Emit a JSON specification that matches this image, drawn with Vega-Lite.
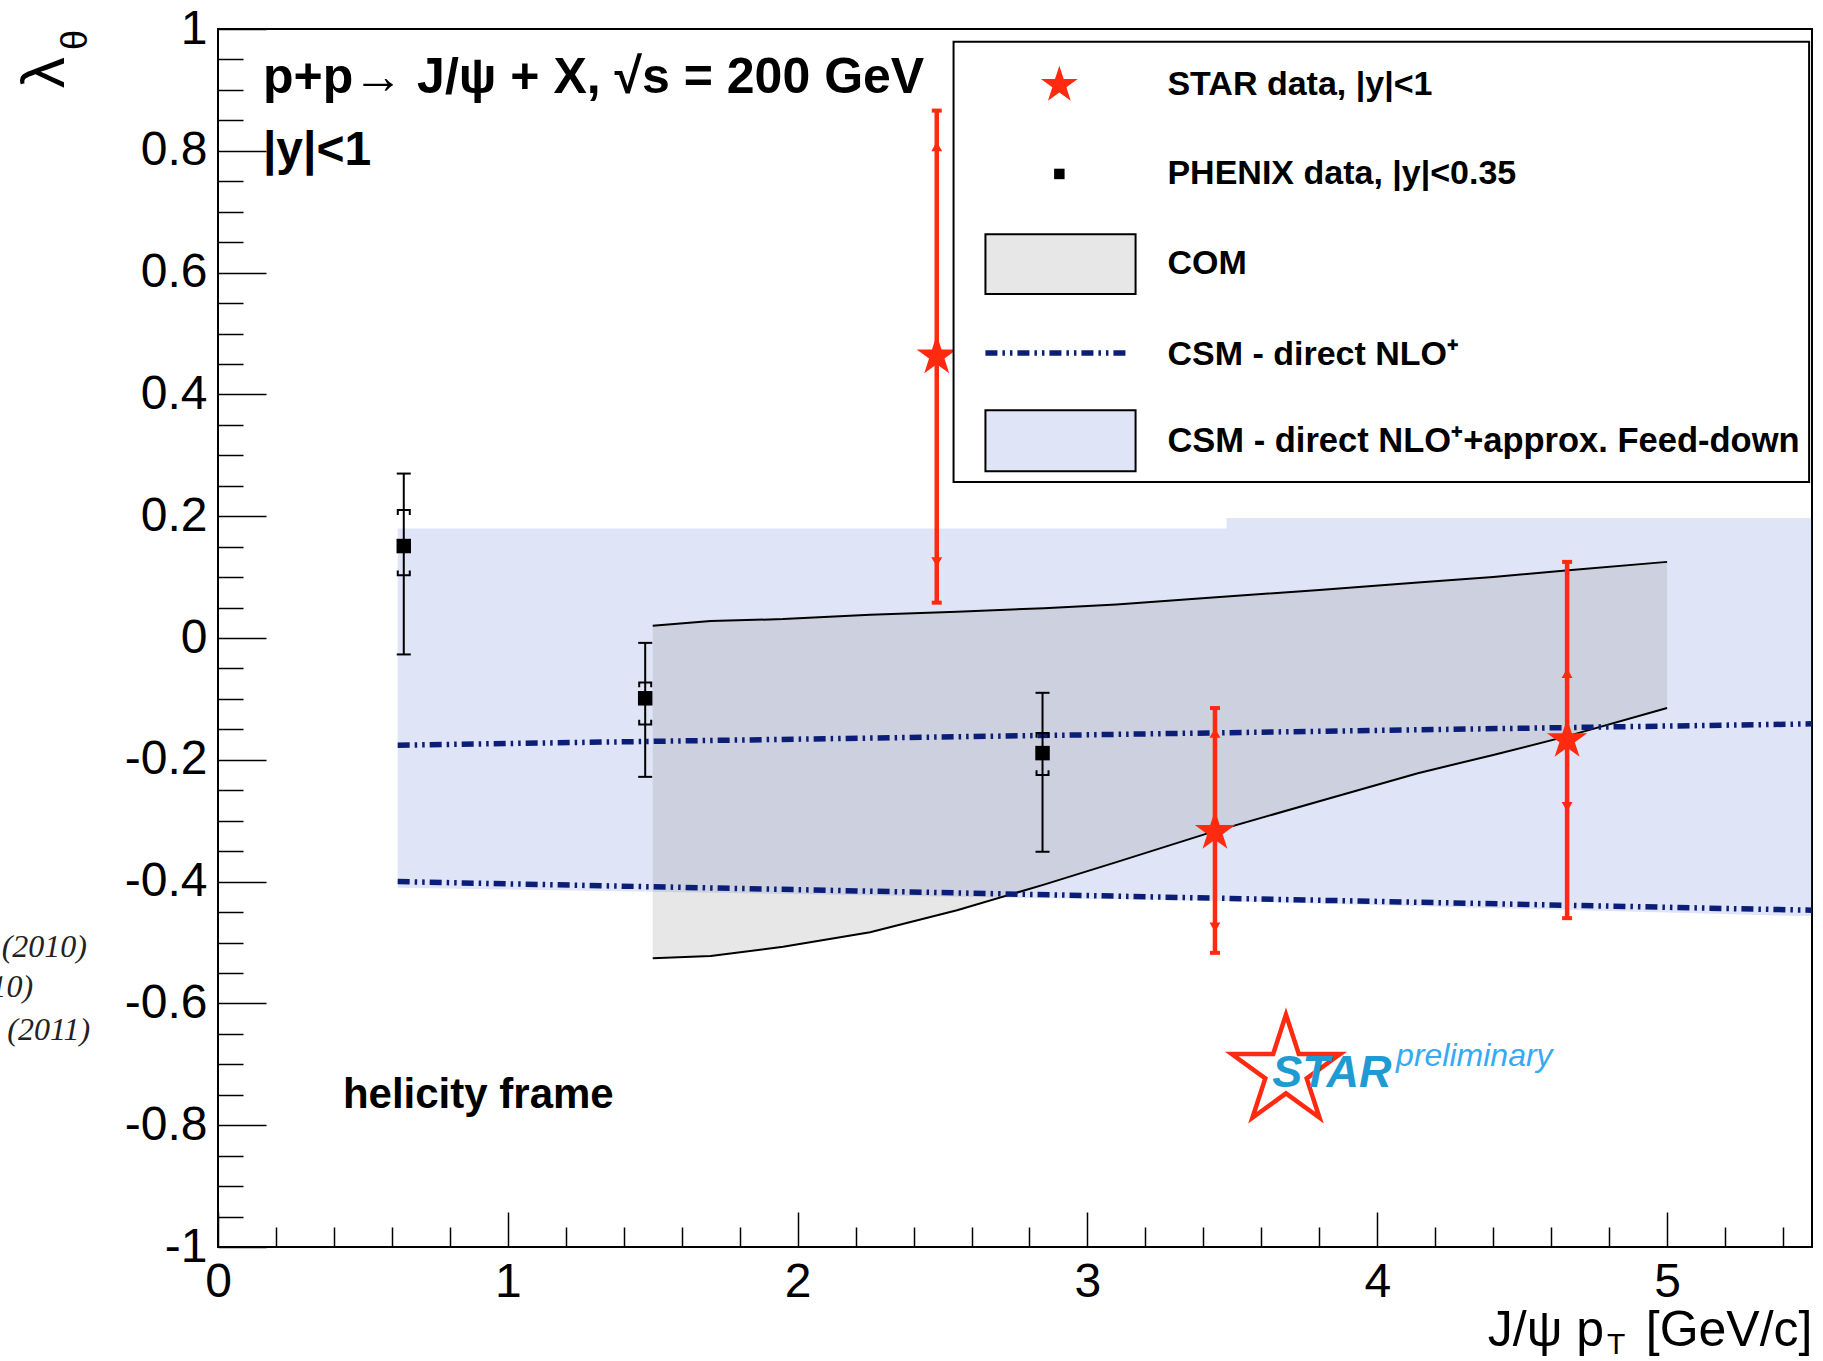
{
  "$schema": "https://vega.github.io/schema/vega-lite/v6.json",
  "width": 1594,
  "height": 1218,
  "autosize": {"type": "none"},
  "padding": {"left": 218, "top": 29, "right": 11, "bottom": 114},
  "background": "white",
  "config": {
    "view": {"stroke": "black", "strokeWidth": 2},
    "font": "Liberation Sans",
    "text": {"font": "Liberation Sans", "color": "black"}
  },
  "datasets": {
    "star": [
      {"pt": 2.48, "lam": 0.463, "stat_lo": 0.058, "stat_hi": 0.866, "sys_lo": 0.125, "sys_hi": 0.807},
      {"pt": 3.44, "lam": -0.318, "stat_lo": -0.517, "stat_hi": -0.115, "sys_lo": -0.475, "sys_hi": -0.156},
      {"pt": 4.655, "lam": -0.167, "stat_lo": -0.46, "stat_hi": 0.125, "sys_lo": -0.277, "sys_hi": -0.058}
    ],
    "phenix": [
      {"pt": 0.641, "lam": 0.151, "stat_lo": -0.027, "stat_hi": 0.27, "sys_lo": 0.103, "sys_hi": 0.21},
      {"pt": 1.474, "lam": -0.099, "stat_lo": -0.228, "stat_hi": -0.008, "sys_lo": -0.142, "sys_hi": -0.073},
      {"pt": 2.845, "lam": -0.189, "stat_lo": -0.351, "stat_hi": -0.09, "sys_lo": -0.225, "sys_hi": -0.156}
    ],
    "com": [
      {"pt": 1.5, "lo": -0.526, "hi": 0.02},
      {"pt": 1.7, "lo": -0.522, "hi": 0.028},
      {"pt": 1.95, "lo": -0.507, "hi": 0.031},
      {"pt": 2.25, "lo": -0.483, "hi": 0.038},
      {"pt": 2.55, "lo": -0.447, "hi": 0.043},
      {"pt": 2.85, "lo": -0.405, "hi": 0.049},
      {"pt": 3.1, "lo": -0.368, "hi": 0.055},
      {"pt": 3.42, "lo": -0.32, "hi": 0.066},
      {"pt": 3.8, "lo": -0.268, "hi": 0.079},
      {"pt": 4.14, "lo": -0.222, "hi": 0.091},
      {"pt": 4.4, "lo": -0.192, "hi": 0.1},
      {"pt": 4.65, "lo": -0.162, "hi": 0.111},
      {"pt": 5.0, "lo": -0.115, "hi": 0.125}
    ],
    "csm_band": [
      {"pt": 0.62, "lo": -0.41, "hi": 0.18},
      {"pt": 3.48, "lo": -0.432, "hi": 0.18},
      {"pt": 3.48, "lo": -0.432, "hi": 0.197},
      {"pt": 5.5, "lo": -0.457, "hi": 0.197}
    ],
    "csm_lines": [
      {"pt": 0.62, "lo": -0.4, "hi": -0.176},
      {"pt": 5.5, "lo": -0.447, "hi": -0.141}
    ]
  },
  "data": {"values": [{}]},
  "layer": [
    {
      "data": {"name": "csm_band"},
      "mark": {"type": "area", "color": "#3a55c8", "opacity": 0.16},
      "encoding": {
        "x": {
          "field": "pt", "type": "quantitative",
          "scale": {"domain": [0, 5.5], "nice": false, "zero": false},
          "axis": {
            "values": [0,0.2,0.4,0.6,0.8,1,1.2,1.4,1.6,1.8,2,2.2,2.4,2.6,2.8,3,3.2,3.4,3.6,3.8,4,4.2,4.4,4.6,4.8,5,5.2,5.4],
            "tickCount": 200,
            "domain": false, "grid": false, "ticks": true,
            "tickColor": "black", "tickWidth": 1.5,
            "tickSize": {"condition": {"test": "abs(datum.value - round(datum.value)) < 0.001", "value": -35}, "value": -20},
            "labelExpr": "abs(datum.value - round(datum.value)) < 0.001 ? format(datum.value, 'd') : ''",
            "labelFontSize": 48, "labelColor": "black", "labelFont": "Liberation Sans",
            "labelPadding": 46, "labelOverlap": false, "labelFlush": false, "labelBound": false,
            "title": "J/ψ p\u00a0\u00a0\u00a0[GeV/c]",
            "titleFontSize": 50, "titleFontWeight": "normal", "titleColor": "black", "titleFont": "Liberation Sans",
            "titleAnchor": "end", "titleAlign": "right", "titleBaseline": "alphabetic", "titleY": 98
          }
        },
        "y": {
          "field": "lo", "type": "quantitative",
          "scale": {"domain": [-1, 1], "nice": false, "zero": false},
          "axis": {
            "values": [-1,-0.95,-0.9,-0.85,-0.8,-0.75,-0.7,-0.65,-0.6,-0.55,-0.5,-0.45,-0.4,-0.35,-0.3,-0.25,-0.2,-0.15,-0.1,-0.05,0,0.05,0.1,0.15,0.2,0.25,0.3,0.35,0.4,0.45,0.5,0.55,0.6,0.65,0.7,0.75,0.8,0.85,0.9,0.95,1],
            "tickCount": 200,
            "domain": false, "grid": false, "ticks": true,
            "tickColor": "black", "tickWidth": 1.5,
            "tickSize": {"condition": {"test": "abs(datum.value*5 - round(datum.value*5)) < 0.001", "value": -48}, "value": -25},
            "labelExpr": "abs(datum.value*5 - round(datum.value*5)) < 0.001 ? replace(format(datum.value, '.1~f'), '−', '-') : ''",
            "labelFontSize": 48, "labelColor": "black", "labelFont": "Liberation Sans",
            "labelPadding": 59, "labelOverlap": false, "labelFlush": false, "labelBound": false,
            "title": null
          }
        },
        "y2": {"field": "hi"}
      }
    },
    {
      "data": {"name": "com"},
      "mark": {"type": "area", "color": "#707070", "opacity": 0.17},
      "encoding": {
        "x": {"field": "pt", "type": "quantitative"},
        "y": {"field": "lo", "type": "quantitative"},
        "y2": {"field": "hi"}
      }
    },
    {
      "data": {"name": "com"},
      "mark": {"type": "line", "color": "black", "strokeWidth": 2},
      "encoding": {
        "x": {"field": "pt", "type": "quantitative"},
        "y": {"field": "hi", "type": "quantitative"}
      }
    },
    {
      "data": {"name": "com"},
      "mark": {"type": "line", "color": "black", "strokeWidth": 2},
      "encoding": {
        "x": {"field": "pt", "type": "quantitative"},
        "y": {"field": "lo", "type": "quantitative"}
      }
    },
    {
      "data": {"name": "csm_lines"},
      "mark": {"type": "line", "color": "#0a1e78", "strokeWidth": 5.5, "strokeDash": [12, 5, 2.5, 5, 2.5, 5]},
      "encoding": {
        "x": {"field": "pt", "type": "quantitative"},
        "y": {"field": "hi", "type": "quantitative"}
      }
    },
    {
      "data": {"name": "csm_lines"},
      "mark": {"type": "line", "color": "#0a1e78", "strokeWidth": 5.5, "strokeDash": [12, 5, 2.5, 5, 2.5, 5]},
      "encoding": {
        "x": {"field": "pt", "type": "quantitative"},
        "y": {"field": "lo", "type": "quantitative"}
      }
    },
    {
      "data": {"name": "phenix"},
      "mark": {"type": "rule", "color": "black", "strokeWidth": 2},
      "encoding": {
        "x": {"field": "pt", "type": "quantitative"},
        "y": {"field": "stat_lo", "type": "quantitative"},
        "y2": {"field": "stat_hi"}
      }
    },
    {
      "data": {"name": "phenix"},
      "mark": {"type": "point", "shape": "M-1,0H1", "filled": false, "stroke": "black", "strokeWidth": 2, "size": 196, "opacity": 1},
      "encoding": {
        "x": {"field": "pt", "type": "quantitative"},
        "y": {"field": "stat_hi", "type": "quantitative"}
      }
    },
    {
      "data": {"name": "phenix"},
      "mark": {"type": "point", "shape": "M-1,0H1", "filled": false, "stroke": "black", "strokeWidth": 2, "size": 196, "opacity": 1},
      "encoding": {
        "x": {"field": "pt", "type": "quantitative"},
        "y": {"field": "stat_lo", "type": "quantitative"}
      }
    },
    {
      "data": {"name": "phenix"},
      "mark": {"type": "point", "shape": "M-1,0.8V0H1V0.8", "filled": false, "stroke": "black", "strokeWidth": 2, "size": 144, "opacity": 1},
      "encoding": {
        "x": {"field": "pt", "type": "quantitative"},
        "y": {"field": "sys_hi", "type": "quantitative"}
      }
    },
    {
      "data": {"name": "phenix"},
      "mark": {"type": "point", "shape": "M-1,-0.8V0H1V-0.8", "filled": false, "stroke": "black", "strokeWidth": 2, "size": 144, "opacity": 1},
      "encoding": {
        "x": {"field": "pt", "type": "quantitative"},
        "y": {"field": "sys_lo", "type": "quantitative"}
      }
    },
    {
      "data": {"name": "phenix"},
      "mark": {"type": "point", "shape": "square", "filled": true, "color": "black", "size": 210, "opacity": 1},
      "encoding": {
        "x": {"field": "pt", "type": "quantitative"},
        "y": {"field": "lam", "type": "quantitative"}
      }
    },
    {
      "data": {"name": "star"},
      "mark": {"type": "rule", "color": "#ff2a10", "strokeWidth": 4.5},
      "encoding": {
        "x": {"field": "pt", "type": "quantitative"},
        "y": {"field": "stat_lo", "type": "quantitative"},
        "y2": {"field": "stat_hi"}
      }
    },
    {
      "data": {"name": "star"},
      "mark": {"type": "point", "shape": "M-1,0H1", "filled": false, "stroke": "#ff2a10", "strokeWidth": 4, "size": 100, "opacity": 1},
      "encoding": {
        "x": {"field": "pt", "type": "quantitative"},
        "y": {"field": "stat_hi", "type": "quantitative"}
      }
    },
    {
      "data": {"name": "star"},
      "mark": {"type": "point", "shape": "M-1,0H1", "filled": false, "stroke": "#ff2a10", "strokeWidth": 4, "size": 100, "opacity": 1},
      "encoding": {
        "x": {"field": "pt", "type": "quantitative"},
        "y": {"field": "stat_lo", "type": "quantitative"}
      }
    },
    {
      "data": {"name": "star"},
      "mark": {"type": "point", "shape": "triangle-up", "filled": true, "color": "#ff2a10", "size": 120, "opacity": 1},
      "encoding": {
        "x": {"field": "pt", "type": "quantitative"},
        "y": {"field": "sys_hi", "type": "quantitative"}
      }
    },
    {
      "data": {"name": "star"},
      "mark": {"type": "point", "shape": "triangle-down", "filled": true, "color": "#ff2a10", "size": 120, "opacity": 1},
      "encoding": {
        "x": {"field": "pt", "type": "quantitative"},
        "y": {"field": "sys_lo", "type": "quantitative"}
      }
    },
    {
      "data": {"name": "star"},
      "mark": {"type": "point", "shape": "M0,-1L0.2245,-0.309L0.951,-0.309L0.363,0.118L0.588,0.809L0,0.382L-0.588,0.809L-0.363,0.118L-0.951,-0.309L-0.2245,-0.309Z", "filled": true, "color": "#ff2a10", "size": 1800, "opacity": 1},
      "encoding": {
        "x": {"field": "pt", "type": "quantitative"},
        "y": {"field": "lam", "type": "quantitative"}
      }
    },
    {
      "mark": {"type": "rect", "fill": "white", "stroke": "black", "strokeWidth": 2},
      "encoding": {
        "x": {"datum": 2.538, "type": "quantitative"},
        "x2": {"datum": 5.49},
        "y": {"datum": 0.979, "type": "quantitative"},
        "y2": {"datum": 0.256}
      }
    },
    {
      "mark": {"type": "point", "shape": "M0,-1L0.2245,-0.309L0.951,-0.309L0.363,0.118L0.588,0.809L0,0.382L-0.588,0.809L-0.363,0.118L-0.951,-0.309L-0.2245,-0.309Z", "filled": true, "color": "#ff2a10", "size": 1500, "opacity": 1},
      "encoding": {
        "x": {"datum": 2.903, "type": "quantitative"},
        "y": {"datum": 0.908, "type": "quantitative"}
      }
    },
    {
      "mark": {"type": "point", "shape": "square", "filled": true, "color": "black", "size": 110, "opacity": 1},
      "encoding": {
        "x": {"datum": 2.903, "type": "quantitative"},
        "y": {"datum": 0.762, "type": "quantitative"}
      }
    },
    {
      "mark": {"type": "rect", "fill": "#707070", "fillOpacity": 0.17, "stroke": "black", "strokeWidth": 2},
      "encoding": {
        "x": {"datum": 2.648, "type": "quantitative"},
        "x2": {"datum": 3.166},
        "y": {"datum": 0.663, "type": "quantitative"},
        "y2": {"datum": 0.565}
      }
    },
    {
      "mark": {"type": "rule", "color": "#0a1e78", "strokeWidth": 5.5, "strokeDash": [12, 5, 2.5, 5, 2.5, 5]},
      "encoding": {
        "x": {"datum": 2.648, "type": "quantitative"},
        "x2": {"datum": 3.138},
        "y": {"datum": 0.468, "type": "quantitative"}
      }
    },
    {
      "mark": {"type": "rect", "fill": "#3a55c8", "fillOpacity": 0.16, "stroke": "black", "strokeWidth": 2},
      "encoding": {
        "x": {"datum": 2.648, "type": "quantitative"},
        "x2": {"datum": 3.166},
        "y": {"datum": 0.374, "type": "quantitative"},
        "y2": {"datum": 0.274}
      }
    },
    {
      "mark": {"type": "text", "text": "STAR data, |y|<1", "align": "left", "baseline": "middle", "fontSize": 34, "fontWeight": "bold"},
      "encoding": {"x": {"datum": 3.276, "type": "quantitative"}, "y": {"datum": 0.908, "type": "quantitative"}}
    },
    {
      "mark": {"type": "text", "text": "PHENIX data, |y|<0.35", "align": "left", "baseline": "middle", "fontSize": 34, "fontWeight": "bold"},
      "encoding": {"x": {"datum": 3.276, "type": "quantitative"}, "y": {"datum": 0.762, "type": "quantitative"}}
    },
    {
      "mark": {"type": "text", "text": "COM", "align": "left", "baseline": "middle", "fontSize": 34, "fontWeight": "bold"},
      "encoding": {"x": {"datum": 3.276, "type": "quantitative"}, "y": {"datum": 0.614, "type": "quantitative"}}
    },
    {
      "mark": {"type": "text", "text": "CSM - direct NLO⁺", "align": "left", "baseline": "middle", "fontSize": 34, "fontWeight": "bold"},
      "encoding": {"x": {"datum": 3.276, "type": "quantitative"}, "y": {"datum": 0.465, "type": "quantitative"}}
    },
    {
      "mark": {"type": "text", "text": "CSM - direct NLO⁺+approx. Feed-down", "align": "left", "baseline": "middle", "fontSize": 34.5, "fontWeight": "bold"},
      "encoding": {"x": {"datum": 3.276, "type": "quantitative"}, "y": {"datum": 0.322, "type": "quantitative"}}
    },
    {
      "mark": {"type": "text", "text": "p+p→ J/ψ + X, √s = 200 GeV", "align": "left", "baseline": "alphabetic", "fontSize": 50, "fontWeight": "bold"},
      "encoding": {"x": {"datum": 0.155, "type": "quantitative"}, "y": {"datum": 0.895, "type": "quantitative"}}
    },
    {
      "mark": {"type": "text", "text": "|y|<1", "align": "left", "baseline": "alphabetic", "fontSize": 48, "fontWeight": "bold"},
      "encoding": {"x": {"datum": 0.155, "type": "quantitative"}, "y": {"datum": 0.777, "type": "quantitative"}}
    },
    {
      "mark": {"type": "text", "text": "helicity frame", "align": "left", "baseline": "alphabetic", "fontSize": 42, "fontWeight": "bold"},
      "encoding": {"x": {"datum": 0.431, "type": "quantitative"}, "y": {"datum": -0.772, "type": "quantitative"}}
    },
    {
      "mark": {"type": "point", "shape": "M0,-1L0.2245,-0.309L0.951,-0.309L0.363,0.118L0.588,0.809L0,0.382L-0.588,0.809L-0.363,0.118L-0.951,-0.309L-0.2245,-0.309Z", "filled": false, "stroke": "#ff2a10", "strokeWidth": 4.5, "size": 13000, "opacity": 1},
      "encoding": {"x": {"datum": 3.685, "type": "quantitative"}, "y": {"datum": -0.712, "type": "quantitative"}}
    },
    {
      "mark": {"type": "text", "text": "STAR", "align": "left", "baseline": "alphabetic", "fontSize": 45, "fontWeight": "bold", "fontStyle": "italic", "color": "#1f9bd1"},
      "encoding": {"x": {"datum": 3.638, "type": "quantitative"}, "y": {"datum": -0.737, "type": "quantitative"}}
    },
    {
      "mark": {"type": "text", "text": "preliminary", "align": "left", "baseline": "alphabetic", "fontSize": 32, "fontStyle": "italic", "color": "#35aaf2"},
      "encoding": {"x": {"datum": 4.065, "type": "quantitative"}, "y": {"datum": -0.703, "type": "quantitative"}}
    },
    {
      "mark": {"type": "text", "text": "(2010)", "align": "right", "baseline": "middle", "fontSize": 32, "fontStyle": "italic", "font": "Liberation Serif", "color": "#222222"},
      "encoding": {"x": {"datum": -0.452, "type": "quantitative"}, "y": {"datum": -0.507, "type": "quantitative"}}
    },
    {
      "mark": {"type": "text", "text": "2010)", "align": "right", "baseline": "middle", "fontSize": 32, "fontStyle": "italic", "font": "Liberation Serif", "color": "#222222"},
      "encoding": {"x": {"datum": -0.638, "type": "quantitative"}, "y": {"datum": -0.573, "type": "quantitative"}}
    },
    {
      "mark": {"type": "text", "text": "(2011)", "align": "right", "baseline": "middle", "fontSize": 32, "fontStyle": "italic", "font": "Liberation Serif", "color": "#222222"},
      "encoding": {"x": {"datum": -0.441, "type": "quantitative"}, "y": {"datum": -0.644, "type": "quantitative"}}
    },
    {
      "mark": {"type": "text", "text": "λ", "align": "center", "baseline": "middle", "fontSize": 62, "angle": 270},
      "encoding": {"x": {"datum": -0.597, "type": "quantitative"}, "y": {"datum": 0.928, "type": "quantitative"}}
    },
    {
      "mark": {"type": "text", "text": "θ", "align": "center", "baseline": "middle", "fontSize": 36, "angle": 270},
      "encoding": {"x": {"datum": -0.49, "type": "quantitative"}, "y": {"datum": 0.982, "type": "quantitative"}}
    },
    {
      "mark": {"type": "text", "text": "T", "align": "center", "baseline": "alphabetic", "fontSize": 30},
      "encoding": {"x": {"datum": 4.824, "type": "quantitative"}, "y": {"datum": -1.176, "type": "quantitative"}}
    }
  ]
}
